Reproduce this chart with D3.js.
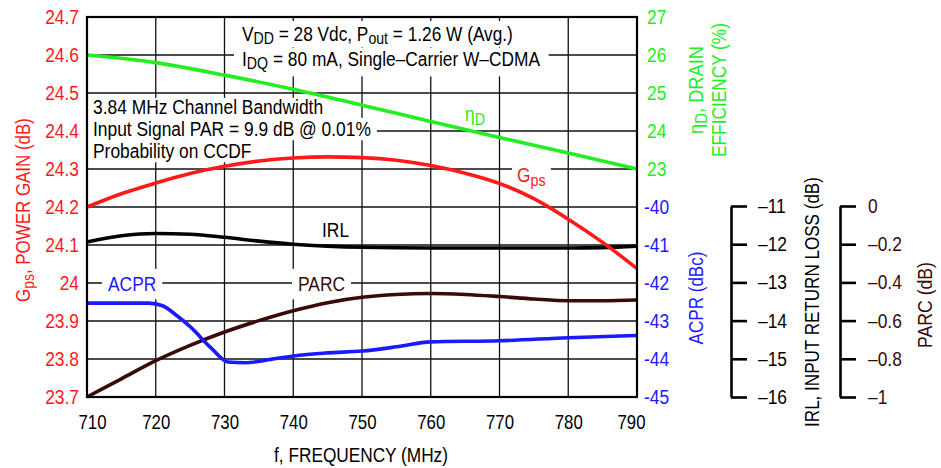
<!DOCTYPE html>
<html>
<head>
<meta charset="utf-8">
<script src="https://cdn.jsdelivr.net/npm/d3@7"></script>
<style>
  html, body { margin: 0; padding: 0; background: #fff; }
  svg { display: block; }
  text { font-family: "Liberation Sans Narrow", "Arial Narrow", "Liberation Sans", Arial, sans-serif; }
</style>
</head>
<body>
<svg id="chart" width="941" height="468"></svg>
<script>
// ---------------- DATA ----------------
const freqTicks = [710, 720, 730, 740, 750, 760, 770, 780, 790];

// Gps, power gain (dB)
const gainFreq = [710, 715, 720, 725, 730, 735, 740, 745, 750, 755, 760, 765, 770, 775, 780, 785, 790];
const gainVals = [24.20, 24.235, 24.263, 24.288, 24.307, 24.321, 24.329, 24.332, 24.330, 24.323, 24.309, 24.289, 24.262, 24.222, 24.168, 24.107, 24.038];

// Drain efficiency (%)
const effFreq = [710, 720, 730, 740, 750, 760, 770, 780, 790];
const effVals = [26.0, 25.8, 25.47, 25.1, 24.68, 24.25, 23.83, 23.42, 23.0];

// IRL (dB)
const irlFreq = [710, 715, 720, 725, 730, 735, 740, 745, 750, 760, 770, 780, 785, 790];
const irlVals = [-11.94, -11.78, -11.72, -11.74, -11.82, -11.92, -12.0, -12.05, -12.08, -12.1, -12.1, -12.1, -12.09, -12.05];

// ACPR (dBc)
const acprFreq = [710, 715, 719, 721, 723, 725, 728, 730.5, 733, 736, 740, 745, 750, 755, 760, 770, 780, 790];
const acprVals = [-42.53, -42.53, -42.53, -42.6, -42.85, -43.15, -43.7, -44.08, -44.1, -44.03, -43.92, -43.84, -43.79, -43.68, -43.55, -43.52, -43.44, -43.38];

// PARC (dB)
const parcFreq = [710, 715, 720, 725, 730, 735, 740, 745, 750, 755, 760, 765, 770, 775, 780, 785, 790];
const parcVals = [-1.0, -0.905, -0.81, -0.73, -0.66, -0.6, -0.548, -0.506, -0.478, -0.463, -0.458, -0.463, -0.474, -0.487, -0.496, -0.496, -0.492];

// Axis ticks
const gainTicks = [23.7, 23.8, 23.9, 24, 24.1, 24.2, 24.3, 24.4, 24.5, 24.6, 24.7];
const effTicks = [23, 24, 25, 26, 27];
const acprTicks = [-45, -44, -43, -42, -41, -40];
const irlTicks = [-16, -15, -14, -13, -12, -11];
const parcTicks = [-1, -0.8, -0.6, -0.4, -0.2, 0];

// Colors
const cGain = "#ff1a1a", cEff = "#22ee22", cAcpr = "#1a1aff", cIrl = "#000000", cParc = "#3a0a0a";

// ---------------- LAYOUT ----------------
const L = 87, R = 637, T = 17, B = 397;
const K = 0.87; // horizontal condensing (narrow typeface look)
const svg = d3.select("#chart");

const x = d3.scaleLinear().domain([710, 790]).range([L, R]);
const yG = d3.scaleLinear().domain([23.7, 24.7]).range([B, T]);
const yE = d3.scaleLinear().domain([17, 27]).range([B, T]);
const yA = d3.scaleLinear().domain([-45, -35]).range([B, T]);
const yI = d3.scaleLinear().domain([-16, -11]).range([B, 206]);
const yP = d3.scaleLinear().domain([-1, 0]).range([B, 206]);

const fmt = v => (Math.round(v * 100) / 100).toString().replace("-", "\u2013");

// condense a text element horizontally, keeping its anchor x fixed
function squeeze(node, k) {
  const ax = +(node.getAttribute("x") || 0);
  node.setAttribute("transform", `translate(${ax * (1 - k)},0) scale(${k},1)`);
}

// grid
const grid = svg.append("g");
gainTicks.forEach(t => {
  grid.append("line").attr("x1", L).attr("x2", R).attr("y1", yG(t)).attr("y2", yG(t))
    .attr("stroke", "#111").attr("stroke-width", 1.3);
});
freqTicks.forEach(t => {
  grid.append("line").attr("x1", x(t)).attr("x2", x(t)).attr("y1", T).attr("y2", B)
    .attr("stroke", "#111").attr("stroke-width", 1.3);
});

const bgLayer = svg.append("g");
const textLayer = svg.append("g");

function sub(sel, main, subs, tail, drop) {
  const d = drop || 0.25;
  sel.append("tspan").text(main);
  sel.append("tspan").attr("dy", d + "em").attr("font-size", "0.82em").text(subs);
  if (tail !== undefined) sel.append("tspan").attr("dy", (-d * 0.82) + "em").text(tail);
}

// white background for a (start-anchored, squeezed) text
function addBg(node, k, px, pt, pb) {
  const b = node.getBBox();
  const x0 = +node.getAttribute("x");
  const bx = x0 + (b.x - x0) * k;
  bgLayer.append("rect").attr("x", bx - px).attr("y", b.y + pt)
    .attr("width", b.width * k + 2 * px).attr("height", b.height - pt - pb).attr("fill", "#fff");
}

const fs = 20;
// Box 1
let t1 = textLayer.append("text").attr("x", 242).attr("y", 41).attr("font-size", 19.5).attr("fill", "#000");
t1.append("tspan").text("V");
t1.append("tspan").attr("dy", "0.2em").attr("font-size", "0.82em").text("DD");
t1.append("tspan").attr("dy", "-0.164em").text(" = 28 Vdc, P");
t1.append("tspan").attr("dy", "0.2em").attr("font-size", "0.82em").text("out");
t1.append("tspan").attr("dy", "-0.164em").text(" = 1.26 W (Avg.)");
let t2 = textLayer.append("text").attr("x", 242).attr("y", 66).attr("font-size", 19.5).attr("fill", "#000");
sub(t2, "I", "DQ", " = 80 mA, Single\u2013Carrier W\u2013CDMA", 0.2);
squeeze(t1.node(), 271 / t1.node().getComputedTextLength());
squeeze(t2.node(), 298 / t2.node().getComputedTextLength());
addBg(t1.node(), 271 / t1.node().getComputedTextLength(), 8, -2, 0);
addBg(t2.node(), 298 / t2.node().getComputedTextLength(), 8, 0, -4);

// Box 2
const b2 = ["3.84 MHz Channel Bandwidth", "Input Signal PAR = 9.9 dB @ 0.01%", "Probability on CCDF"];
const b2y = [114, 136, 158];
b2.forEach((s, i) => {
  const t = textLayer.append("text").attr("x", 93).attr("y", b2y[i]).attr("font-size", fs).attr("fill", "#000").text(s);
  squeeze(t.node(), K);
  addBg(t.node(), K, 6, i === 0 ? 2 : 0, 0);
});

// Curve labels
let lEta = textLayer.append("text").attr("x", 465).attr("y", 121).attr("font-size", fs).attr("fill", cEff);
sub(lEta, "\u03B7", "D");
squeeze(lEta.node(), K);
let lG = textLayer.append("text").attr("x", 517).attr("y", 182).attr("font-size", fs).attr("fill", cGain);
sub(lG, "G", "ps");
squeeze(lG.node(), K);
addBg(lG.node(), K, 5, 0, 0);
let lIrl = textLayer.append("text").attr("x", 322).attr("y", 237).attr("font-size", fs).attr("fill", cIrl).text("IRL");
squeeze(lIrl.node(), K);
let lAcpr = textLayer.append("text").attr("x", 108).attr("y", 291).attr("font-size", fs).attr("fill", cAcpr).text("ACPR");
squeeze(lAcpr.node(), K);
addBg(lAcpr.node(), K, 6, -4, -4);
let lParc = textLayer.append("text").attr("x", 298).attr("y", 291).attr("font-size", fs).attr("fill", cParc).text("PARC");
squeeze(lParc.node(), K);
addBg(lParc.node(), K, 6, -4, -4);

// Curves
function curve(fx, vals, y, color) {
  const pts = fx.map((f, i) => [f, vals[i]]);
  svg.append("path").datum(pts)
    .attr("d", d3.line().x(d => x(d[0])).y(d => y(d[1])).curve(d3.curveMonotoneX))
    .attr("fill", "none").attr("stroke", color).attr("stroke-width", 3.6)
    .attr("stroke-linejoin", "round");
}
curve(effFreq, effVals, yE, cEff);
curve(parcFreq, parcVals, yP, cParc);
curve(acprFreq, acprVals, yA, cAcpr);
curve(irlFreq, irlVals, yI, cIrl);
curve(gainFreq, gainVals, yG, cGain);

// Frame
svg.append("rect").attr("x", L).attr("y", T).attr("width", R - L).attr("height", B - T)
  .attr("fill", "none").attr("stroke", "#000").attr("stroke-width", 2.2);

function styleTicks(ax, color, k) {
  ax.selectAll("text").attr("font-size", 20).attr("fill", color).attr("font-family", null)
    .each(function () { squeeze(this, k); });
}

// Left axis (gain)
const axG = svg.append("g").attr("transform", `translate(${L},0)`)
  .call(d3.axisLeft(yG).tickValues(gainTicks).tickSize(0).tickPadding(8).tickFormat(d => String(+d.toFixed(1))));
axG.select(".domain").remove();
styleTicks(axG, cGain, K);

// Bottom axis
const axX = svg.append("g").attr("transform", `translate(0,${B})`)
  .call(d3.axisBottom(x).tickValues(freqTicks).tickSize(0).tickPadding(18));
axX.select(".domain").remove();
axX.selectAll("text").attr("x", d => d === 710 ? 5 : (d === 790 ? -6 : 0));
styleTicks(axX, "#000", 0.84);

// Right axis: efficiency
const axE = svg.append("g").attr("transform", `translate(${R},0)`)
  .call(d3.axisRight(yE).tickValues(effTicks).tickSize(0).tickPadding(10));
axE.select(".domain").remove();
styleTicks(axE, cEff, K);

// Right axis: ACPR
const axA = svg.append("g").attr("transform", `translate(${R},0)`)
  .call(d3.axisRight(yA).tickValues(acprTicks).tickSize(0).tickPadding(7).tickFormat(d => "-" + Math.abs(d)));
axA.select(".domain").remove();
styleTicks(axA, cAcpr, K);

// IRL axis
const axI = svg.append("g").attr("transform", `translate(731,0)`)
  .call(d3.axisRight(yI).tickValues(irlTicks).tickSize(16).tickPadding(11).tickSizeOuter(0).tickFormat(fmt));
axI.select(".domain").attr("stroke", "#000").attr("stroke-width", 2.6);
axI.selectAll(".tick line").attr("stroke", "#000").attr("stroke-width", 2.6);
styleTicks(axI, "#000", K);

// PARC axis
const axP = svg.append("g").attr("transform", `translate(840,0)`)
  .call(d3.axisRight(yP).tickValues(parcTicks).tickSize(16).tickPadding(12).tickSizeOuter(0).tickFormat(fmt));
axP.select(".domain").attr("stroke", "#000").attr("stroke-width", 2.6);
axP.selectAll(".tick line").attr("stroke", "#000").attr("stroke-width", 2.6);
styleTicks(axP, cParc, K);

// Axis titles (rotated, condensed to the reference length)
function vtitle(xp, yc, color, target, build) {
  const t = svg.append("text").attr("text-anchor", "middle").attr("font-size", 20).attr("fill", color);
  build(t);
  const len = t.node().getComputedTextLength();
  const k = target / len;
  t.attr("transform", `translate(${xp},${yc}) rotate(-90) scale(${k},1)`);
  return t;
}
vtitle(30, 210, cGain, 184, t => sub(t, "G", "ps", ", POWER GAIN (dB)"));
vtitle(703, 90, cEff, 88, t => sub(t, "\u03B7", "D", ", DRAIN"));
vtitle(726, 90, cEff, 134, t => t.text("EFFICIENCY (%)"));
vtitle(703, 298, cAcpr, 93, t => t.text("ACPR (dBc)"));
vtitle(819, 302, "#000", 250, t => t.text("IRL, INPUT RETURN LOSS (dB)"));
vtitle(932, 305, cParc, 86, t => t.text("PARC (dB)"));

const xt = svg.append("text").attr("x", 361).attr("y", 462).attr("text-anchor", "middle")
  .attr("font-size", 20).attr("fill", "#000").text("f, FREQUENCY (MHz)");
squeeze(xt.node(), 174 / xt.node().getComputedTextLength());
</script>
</body>
</html>
